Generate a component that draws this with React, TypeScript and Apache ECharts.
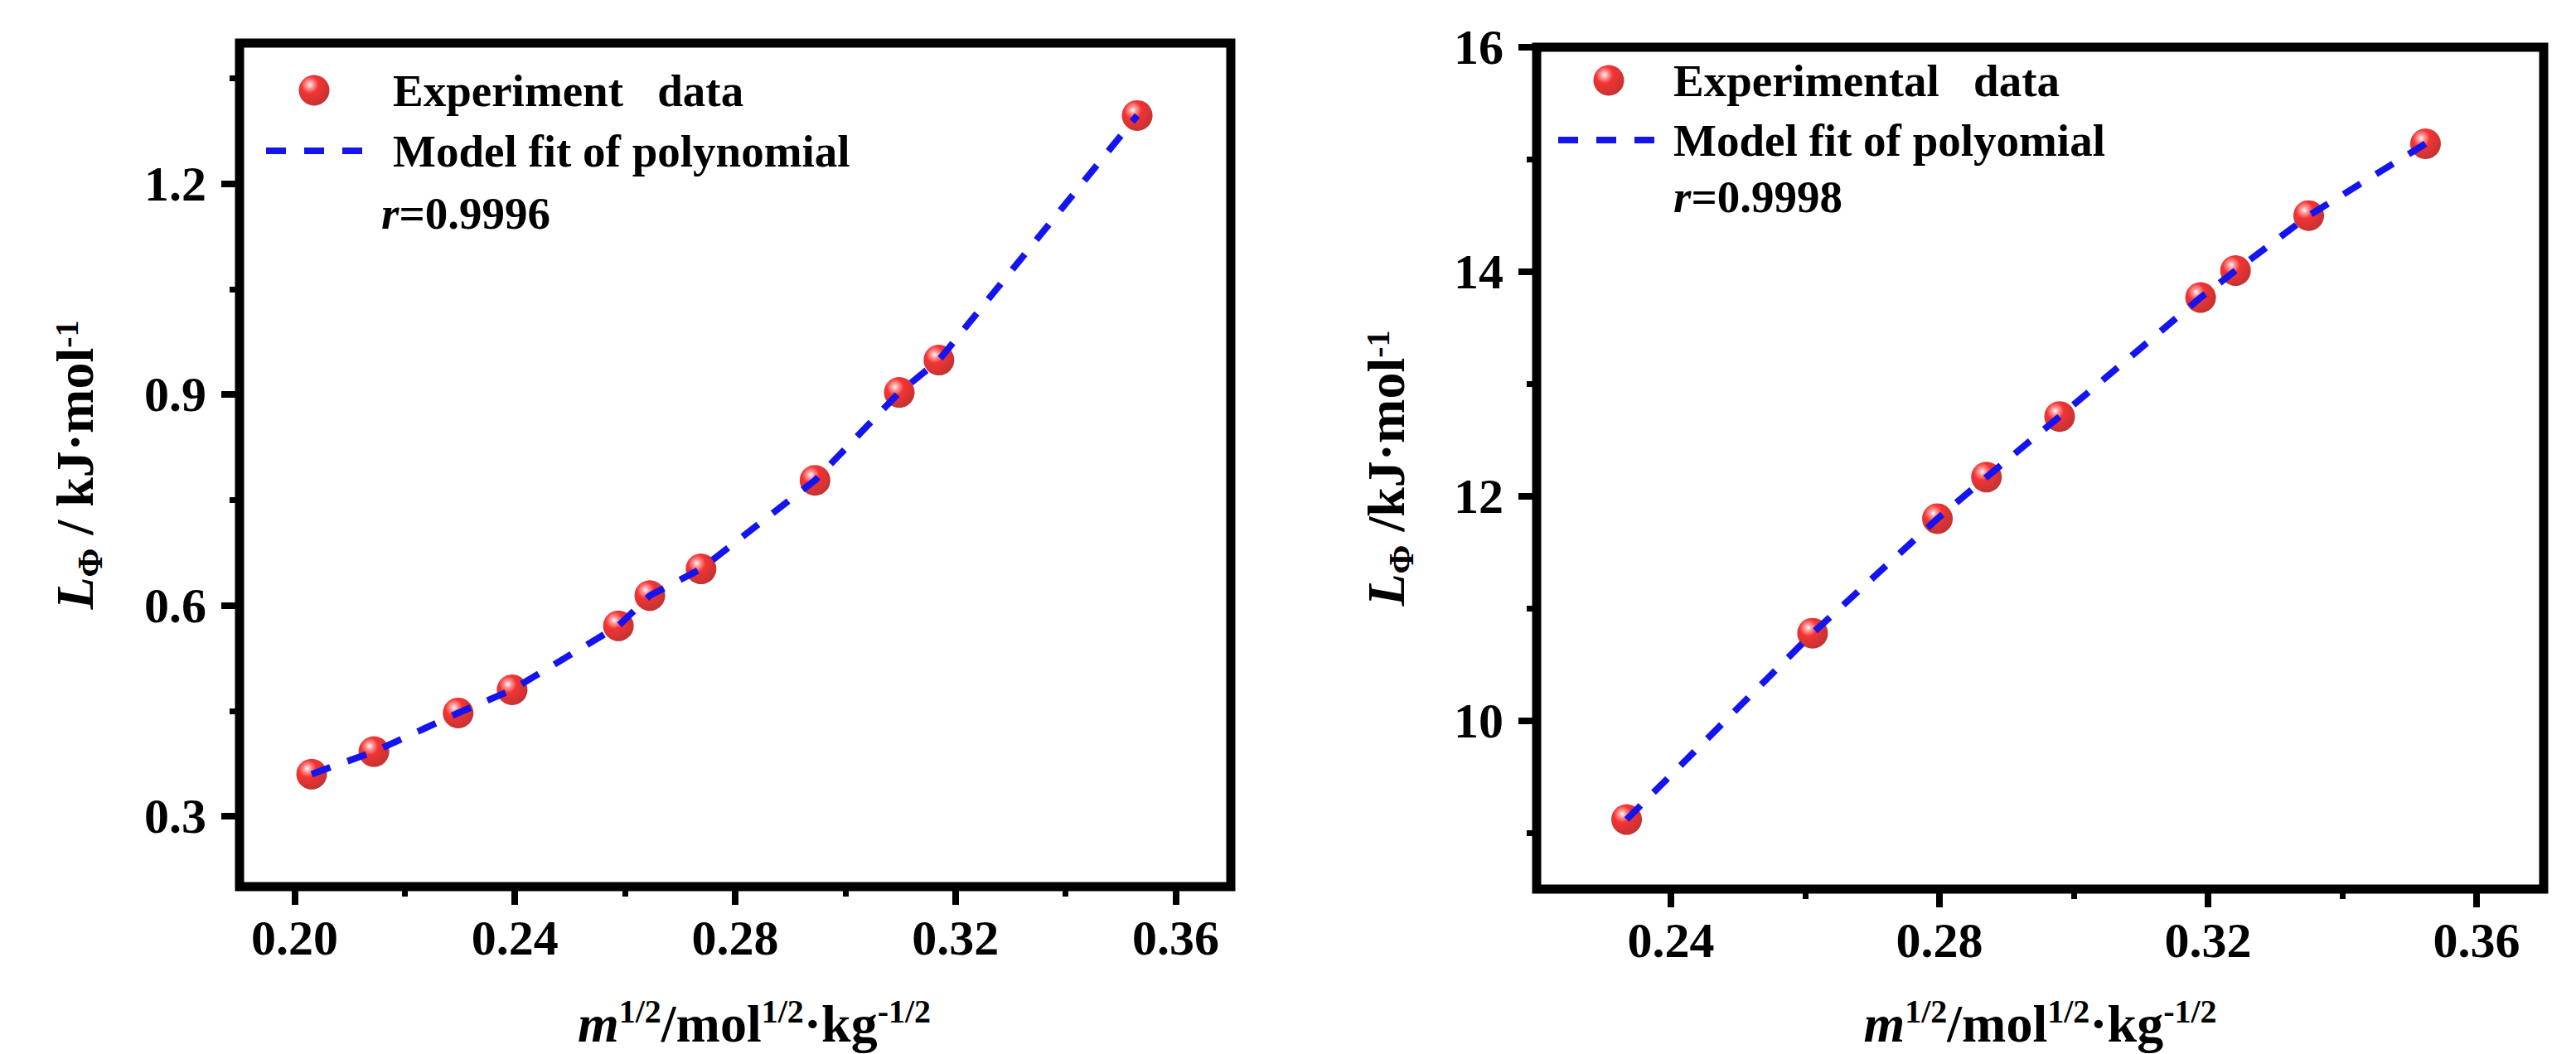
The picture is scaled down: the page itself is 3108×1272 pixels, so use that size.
import React, { useEffect, useRef } from 'react';
import * as echarts from 'echarts';

// ---------- data ----------
const leftX = [0.2031, 0.2144, 0.2297, 0.2395, 0.2588, 0.2645, 0.2738, 0.2945, 0.3098, 0.317, 0.353];
const leftY = [0.36, 0.392, 0.447, 0.48, 0.571, 0.614, 0.652, 0.778, 0.903, 0.949, 1.297];
const rightX = [0.2334, 0.2611, 0.2797, 0.287, 0.2979, 0.3189, 0.3241, 0.335, 0.3524];
const rightY = [9.12, 10.78, 11.8, 12.17, 12.71, 13.77, 14.01, 14.5, 15.14];

const leftXTicks = [0.2, 0.24, 0.28, 0.32, 0.36];
const leftXMinor = [0.22, 0.26, 0.3, 0.34];
const leftYTicks = [0.3, 0.6, 0.9, 1.2];
const leftYMinor = [0.45, 0.75, 1.05, 1.35];
const rightXTicks = [0.24, 0.28, 0.32, 0.36];
const rightXMinor = [0.26, 0.3, 0.34];
const rightYTicks = [10, 12, 14, 16];
const rightYMinor = [9, 11, 13, 15];

const leftNames = ['Experiment \u00a0 data', 'Model fit of polynomial'];
const rightNames = ['Experimental \u00a0 data', 'Model fit of polyomial'];
const leftR = '0.9996';
const rightR = '0.9998';

const FONT = '"Liberation Serif", "Times New Roman", serif';
const FIT_COLOR = '#1414ee';
const FIT_DASH = [24, 22];

const pairs = (xs: number[], ys: number[]) => xs.map((x, i) => [x, ys[i]]);

const labelStyle = {
  color: '#000',
  fontSize: 60,
  fontWeight: 'bold',
  fontFamily: FONT,
};

const xNameRich = {
  it: { fontStyle: 'italic', fontWeight: 'bold', fontSize: 64, lineHeight: 70, fontFamily: FONT, color: '#000' },
  n: { fontWeight: 'bold', fontSize: 64, lineHeight: 70, fontFamily: FONT, color: '#000' },
  sup: { fontWeight: 'bold', fontSize: 40, lineHeight: 44, verticalAlign: 'top', fontFamily: FONT, color: '#000' },
};

const yNameRich = {
  it: { fontStyle: 'italic', fontWeight: 'bold', fontSize: 64, lineHeight: 70, padding: [0, 0, 10, 0], fontFamily: FONT, color: '#000' },
  n: { fontWeight: 'bold', fontSize: 64, lineHeight: 70, padding: [0, 0, 10, 0], fontFamily: FONT, color: '#000' },
  sub: { fontWeight: 'bold', fontSize: 42, lineHeight: 46, verticalAlign: 'bottom', fontFamily: FONT, color: '#000' },
  sup: { fontWeight: 'bold', fontSize: 40, lineHeight: 44, verticalAlign: 'top', fontFamily: FONT, color: '#000' },
};

function majorX(gridIndex: number, min: number, max: number, ticks: number[], name: string, nameGap: number, padLeft: number) {
  return {
    type: 'value', gridIndex, min, max, position: 'bottom',
    axisLine: { show: false },
    axisTick: { show: true, inside: false, length: 22, customValues: ticks, lineStyle: { color: '#000', width: 8 } },
    axisLabel: { show: true, customValues: ticks, margin: 32, formatter: (v: number) => v.toFixed(2), ...labelStyle },
    splitLine: { show: false },
    name, nameLocation: 'middle', nameGap,
    nameTextStyle: { rich: xNameRich, fontFamily: FONT, fontWeight: 'bold', fontSize: 64, color: '#000', padding: [0, 0, 0, padLeft] },
  };
}

function minorX(gridIndex: number, min: number, max: number, ticks: number[]) {
  return {
    type: 'value', gridIndex, min, max, position: 'bottom',
    axisLine: { show: false },
    axisTick: { show: true, inside: false, length: 12, customValues: ticks, lineStyle: { color: '#000', width: 7 } },
    axisLabel: { show: false },
    splitLine: { show: false },
  };
}

function majorY(gridIndex: number, min: number, max: number, ticks: number[], digits: number, name: string, nameGap: number) {
  return {
    type: 'value', gridIndex, min, max, position: 'left',
    axisLine: { show: false },
    axisTick: { show: true, inside: false, length: 22, customValues: ticks, lineStyle: { color: '#000', width: 8 } },
    axisLabel: { show: true, customValues: ticks, margin: 40, formatter: (v: number) => v.toFixed(digits), ...labelStyle },
    splitLine: { show: false },
    name, nameLocation: 'middle', nameGap,
    nameTextStyle: { rich: yNameRich, fontFamily: FONT, fontWeight: 'bold', fontSize: 64, color: '#000' },
  };
}

function minorY(gridIndex: number, min: number, max: number, ticks: number[]) {
  return {
    type: 'value', gridIndex, min, max, position: 'left',
    axisLine: { show: false },
    axisTick: { show: true, inside: false, length: 12, customValues: ticks, lineStyle: { color: '#000', width: 7 } },
    axisLabel: { show: false },
    splitLine: { show: false },
  };
}

const sphere = () =>
  new echarts.graphic.RadialGradient(0.36, 0.32, 0.7, [
    { offset: 0, color: '#ffffff' },
    { offset: 0.16, color: '#ff8080' },
    { offset: 0.4, color: '#f20000' },
    { offset: 1, color: '#b40000' },
  ]);

function legendFor(names: string[], left: number, top: number, itemWidth: number, gap: number, textPad: number) {
  return {
    data: [
      { name: names[0] },
      {
        name: names[1],
        itemStyle: { opacity: 0 },
        lineStyle: { color: FIT_COLOR, width: 8, type: FIT_DASH, opacity: 1 },
      },
    ],
    orient: 'vertical', left, top, padding: 0,
    itemWidth, itemHeight: 37, itemGap: gap, selectedMode: false,
    textStyle: { fontSize: 55, fontWeight: 'bold', fontFamily: FONT, color: '#000', lineHeight: 56, padding: [0, 0, 0, textPad] },
  };
}

const xName = '{it|m}{sup|1/2}{n|/mol}{sup|1/2}{n|·kg}{sup|-1/2}';

const rText = (x: number, y: number, value: string) => ({
  type: 'text', x, y,
  style: {
    text: '{it|r}=' + value,
    rich: { it: { fontStyle: 'italic', fontWeight: 'bold', fontSize: 55, fontFamily: FONT, fill: '#000' } },
    fontSize: 55, fontWeight: 'bold', fontFamily: FONT, fill: '#000', verticalAlign: 'middle',
  },
});

const option = {
  animation: false,
  backgroundColor: '#ffffff',
  grid: [
    { left: 289, top: 52, width: 1196, height: 1024, show: true, borderColor: '#000', borderWidth: 11, backgroundColor: 'transparent' },
    { left: 1854, top: 57, width: 1215, height: 1022, show: true, borderColor: '#000', borderWidth: 11, backgroundColor: 'transparent' },
  ],
  xAxis: [
    majorX(0, 0.19, 0.37, leftXTicks, xName, 130, 46),
    minorX(0, 0.19, 0.37, leftXMinor),
    majorX(1, 0.22, 0.37, rightXTicks, xName, 127, 0),
    minorX(1, 0.22, 0.37, rightXMinor),
  ],
  yAxis: [
    majorY(0, 0.2, 1.4, leftYTicks, 1, '{it|L}{sub|Φ}{n| / kJ·mol}{sup|-1}', 159),
    minorY(0, 0.2, 1.4, leftYMinor),
    majorY(1, 8.5, 16, rightYTicks, 0, '{it|L}{sub|Φ}{n| /kJ·mol}{sup|-1}', 142),
    minorY(1, 8.5, 16, rightYMinor),
  ],
  legend: [
    legendFor(leftNames, 317, 81, 116, 17, 32),
    legendFor(rightNames, 1876, 69, 122, 16, 12),
  ],
  graphic: [rText(460, 257, leftR), rText(2019, 237, rightR)],
  series: [
    {
      name: leftNames[0], type: 'scatter', xAxisIndex: 0, yAxisIndex: 0,
      data: pairs(leftX, leftY), symbol: 'circle', symbolSize: 37, z: 2,
      itemStyle: { color: sphere() },
    },
    {
      name: leftNames[1], type: 'line', xAxisIndex: 0, yAxisIndex: 0,
      data: pairs(leftX, leftY), symbol: 'none', showSymbol: false, smooth: false, z: 3,
      lineStyle: { color: FIT_COLOR, width: 8, type: FIT_DASH },
      itemStyle: { color: FIT_COLOR },
    },
    {
      name: rightNames[0], type: 'scatter', xAxisIndex: 2, yAxisIndex: 2,
      data: pairs(rightX, rightY), symbol: 'circle', symbolSize: 37, z: 2,
      itemStyle: { color: sphere() },
    },
    {
      name: rightNames[1], type: 'line', xAxisIndex: 2, yAxisIndex: 2,
      data: pairs(rightX, rightY), symbol: 'none', showSymbol: false, smooth: false, z: 3,
      lineStyle: { color: FIT_COLOR, width: 8, type: FIT_DASH },
      itemStyle: { color: FIT_COLOR },
    },
  ],
};

export default function App() {
  const ref = useRef<HTMLDivElement>(null);
  useEffect(() => {
    if (!ref.current) return;
    const chart = echarts.init(ref.current, null, { renderer: 'svg' });
    chart.setOption(option as any);
    return () => chart.dispose();
  }, []);
  return (
    <div
      ref={ref}
      style={{ position: 'fixed', left: 0, top: 0, width: 3108, height: 1272, background: '#ffffff' }}
    />
  );
}
